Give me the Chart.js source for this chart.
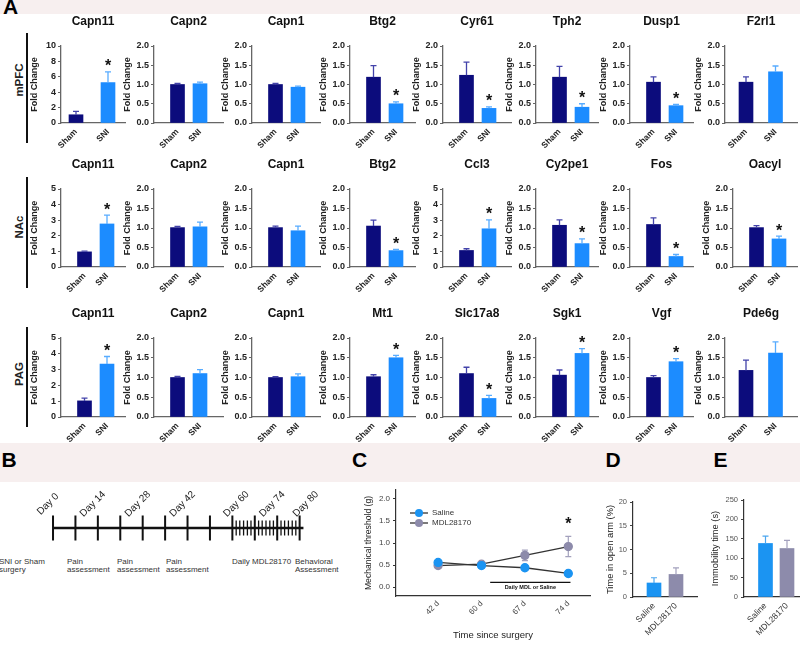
<!DOCTYPE html>
<html>
<head>
<meta charset="utf-8">
<title>Calpain expression and behaviour</title>
<script src="https://cdn.jsdelivr.net/npm/chart.js@4.4.1/dist/chart.umd.min.js"></script>
<style>
  body { margin: 0; background: #fff; }
  #fig { position: relative; width: 800px; height: 645px; overflow: hidden; font-family: Arial, "Liberation Sans", sans-serif; color: #222; }
  .band { position: absolute; left: 0; width: 800px; background: #f7efef; }
  .letter { position: absolute; font-size: 21px; line-height: 1; font-weight: bold; color: #000; }
  .region { position: absolute; font-size: 11.5px; font-weight: bold; white-space: nowrap; transform: translate(-50%, -50%) rotate(-90deg); }
  .rule { position: absolute; left: 26px; width: 2px; background: #111; }
  .note { position: absolute; font-size: 8px; line-height: 8.5px; color: #333; white-space: nowrap; }
  canvas { position: absolute; }
</style>
</head>
<body>
<div id="fig">
  <div class="band" style="top:0;height:14px"></div>
  <div class="band" style="top:443px;height:39px"></div>
  <div class="letter" style="left:3px;top:-4.5px">A</div>
  <div class="letter" style="left:1.5px;top:449px">B</div>
  <div class="letter" style="left:352px;top:449px">C</div>
  <div class="letter" style="left:605.5px;top:449px">D</div>
  <div class="letter" style="left:713.5px;top:449px">E</div>

  <div class="region" style="left:19px;top:80px">mPFC</div>
  <div class="region" style="left:19px;top:227px">NAc</div>
  <div class="region" style="left:19px;top:374px">PAG</div>
  <div class="rule" style="top:33px;height:110px"></div>
  <div class="rule" style="top:177px;height:111px"></div>
  <div class="rule" style="top:327px;height:100px"></div>

  <div class="note" style="left:-1px;top:557.5px">SNI or Sham<br>surgery</div>
  <div class="note" style="left:67px;top:557.5px">Pain<br>assessment</div>
  <div class="note" style="left:117px;top:557.5px">Pain<br>assessment</div>
  <div class="note" style="left:166px;top:557.5px">Pain<br>assessment</div>
  <div class="note" style="left:232px;top:557.5px">Daily MDL28170</div>
  <div class="note" style="left:295px;top:557.5px">Behavioral<br>Assessment</div>
</div>

<script>
const FONT = 'Arial, "Liberation Sans", sans-serif';

// ---- panel A: fold change, Sham vs SNI ----
const groups = ['Sham', 'SNI'];

const mpfcGenes = ['Capn11', 'Capn2', 'Capn1', 'Btg2', 'Cyr61', 'Tph2', 'Dusp1', 'F2rl1'];
const mpfcSham = [1.07, 1.0, 1.0, 1.19, 1.24, 1.19, 1.06, 1.06];
const mpfcShamErr = [0.43, 0.03, 0.03, 0.3, 0.34, 0.28, 0.14, 0.14];
const mpfcSni = [5.25, 1.02, 0.93, 0.5, 0.38, 0.41, 0.45, 1.33];
const mpfcSniErr = [1.4, 0.04, 0.03, 0.05, 0.04, 0.09, 0.03, 0.15];
const mpfcSig = [true, false, false, true, true, true, true, false];
const mpfcMax = [10, 2, 2, 2, 2, 2, 2, 2];

const nacGenes = ['Capn11', 'Capn2', 'Capn1', 'Btg2', 'Ccl3', 'Cy2pe1', 'Fos', 'Oacyl'];
const nacSham = [0.97, 1.01, 1.01, 1.05, 1.06, 1.07, 1.09, 1.01];
const nacShamErr = [0.05, 0.03, 0.04, 0.15, 0.11, 0.14, 0.17, 0.05];
const nacSni = [2.76, 1.03, 0.93, 0.42, 2.45, 0.6, 0.27, 0.72];
const nacSniErr = [0.57, 0.12, 0.12, 0.03, 0.57, 0.12, 0.05, 0.07];
const nacSig = [true, false, false, true, true, true, true, true];
const nacMax = [5, 2, 2, 2, 5, 2, 2, 2];

const pagGenes = ['Capn11', 'Capn2', 'Capn1', 'Mt1', 'Slc17a8', 'Sgk1', 'Vgf', 'Pde6g'];
const pagSham = [1.02, 1.0, 1.0, 1.02, 1.1, 1.06, 1.0, 1.18];
const pagShamErr = [0.18, 0.03, 0.02, 0.05, 0.16, 0.13, 0.05, 0.26];
const pagSni = [3.35, 1.1, 1.02, 1.5, 0.47, 1.61, 1.4, 1.62];
const pagSniErr = [0.48, 0.1, 0.07, 0.06, 0.08, 0.12, 0.08, 0.28];
const pagSig = [true, false, false, true, true, true, true, false];
const pagMax = [5, 2, 2, 2, 2, 2, 2, 2];

// ---- panel B: timeline ----
const timelineMajor = [0, 1, 2, 3, 4, 5, 6, 7, 8, 9, 10, 11];
const timelineMinor = [8.17, 8.33, 8.5, 8.67, 8.83, 9.17, 9.33, 9.5, 9.67, 9.83, 10.17, 10.33, 10.5, 10.67, 10.83];
const timelineEnd = 11.17;
const timelineDays = ['Day 0', 'Day 14', 'Day 28', 'Day 42', 'Day 60', 'Day 74', 'Day 80'];
const timelineDayAt = [0, 2, 4, 6, 8.4, 10, 11.5];

// ---- panel C: mechanical threshold ----
const surgeryDays = ['42 d', '60 d', '67 d', '74 d'];
const salineThreshold = [0.56, 0.49, 0.44, 0.31];
const salineThresholdErr = [0.03, 0.03, 0.03, 0.03];
const mdlThreshold = [0.49, 0.52, 0.72, 0.92];
const mdlThresholdErr = [0.04, 0.04, 0.12, 0.23];
const mdlThresholdSig = [false, false, false, true];
const thresholdTicks = [0, 0.5, 1, 1.5, 2];

// ---- panels D and E ----
const treatments = ['Saline', 'MDL28170'];
const openArm = [2.95, 4.75];
const openArmErr = [1.1, 1.4];
const openArmTicks = [0, 5, 10, 15, 20];
const immobility = [138, 125];
const immobilityErr = [19, 21];
const immobilityTicks = [0, 50, 100, 150, 200, 250];

const SHAM = '#0c0c7c', SNI = '#1c8cff';
const SHAM_ERR = '#4343aa', SNI_ERR = '#58acff';
const SALINE = '#1b94f2', MDL = '#8d8bab';
const SALINE_ERR = '#4ba6ef', MDL_ERR = '#a3a1bd';

Chart.defaults.font.family = FONT;
Chart.defaults.color = '#222';
Chart.defaults.animation = false;
Chart.defaults.responsive = false;
Chart.defaults.events = [];
Chart.defaults.plugins.legend.display = false;
Chart.defaults.plugins.tooltip.enabled = false;

const fig = document.getElementById('fig');

function addCanvas(left, top, width, height) {
    const c = document.createElement('canvas');
    c.width = width;
    c.height = height;
    c.style.left = left + 'px';
    c.style.top = top + 'px';
    c.style.width = width + 'px';
    c.style.height = height + 'px';
    fig.appendChild(c);
    return c;
}

function drawErrors(chart, opts) {
    const ctx = chart.ctx;
    const ys = chart.scales.y;
    chart.data.datasets.forEach((ds, di) => {
        if (!ds.errors) return;
        chart.getDatasetMeta(di).data.forEach((el, i) => {
            const v = ds.data[i].y;
            const e = ds.errors[i];
            const top = ys.getPixelForValue(v + e);
            const bottom = ys.getPixelForValue(opts.both ? v - e : v);
            ctx.save();
            ctx.strokeStyle = Array.isArray(ds.errorColor) ? ds.errorColor[i] : ds.errorColor;
            ctx.lineWidth = opts.width;
            ctx.beginPath();
            ctx.moveTo(el.x, bottom);
            ctx.lineTo(el.x, top);
            ctx.moveTo(el.x - opts.cap, top);
            ctx.lineTo(el.x + opts.cap, top);
            if (opts.both) {
                ctx.moveTo(el.x - opts.cap, bottom);
                ctx.lineTo(el.x + opts.cap, bottom);
            }
            ctx.stroke();
            if (ds.stars && ds.stars[i]) {
                ctx.fillStyle = '#111';
                ctx.font = 'bold 16px ' + FONT;
                ctx.textAlign = 'center';
                ctx.textBaseline = 'alphabetic';
                ctx.fillText('*', el.x, top - opts.starGap);
            }
            ctx.restore();
        });
    });
}

const errorBars = {
    id: 'errorBars',
    beforeDatasetsDraw(chart, args, opts) { if (opts.under) drawErrors(chart, opts); },
    afterDatasetsDraw(chart, args, opts) { if (!opts.under) drawErrors(chart, opts); }
};

const panelTitle = {
    id: 'panelTitle',
    afterDraw(chart, args, opts) {
        const { ctx, chartArea } = chart;
        ctx.save();
        ctx.font = 'bold 12px ' + FONT;
        ctx.fillStyle = '#111';
        ctx.textAlign = 'center';
        ctx.textBaseline = 'middle';
        ctx.fillText(opts.text, (chartArea.left + chartArea.right) / 2, chartArea.top - opts.gap);
        ctx.restore();
    }
};

// ---- panel A ----
const regions = [
    { genes: mpfcGenes, sham: mpfcSham, shamErr: mpfcShamErr, sni: mpfcSni, sniErr: mpfcSniErr, sig: mpfcSig, yMax: mpfcMax },
    { genes: nacGenes, sham: nacSham, shamErr: nacShamErr, sni: nacSni, sniErr: nacSniErr, sig: nacSig, yMax: nacMax },
    { genes: pagGenes, sham: pagSham, shamErr: pagShamErr, sni: pagSni, sniErr: pagSniErr, sig: pagSig, yMax: pagMax }
];

const colX = [61, 154, 252, 350, 443, 536, 630, 725];
const colW = [64, 69, 68, 65, 68, 62, 63, 72];
const rowTop = [46, 189, 338];
const rowH = [77, 78, 79];

function barPlace(r, c) {
    if (r === 0 && c === 0) return [15, 32];
    if (c === 7 && r !== 1) return [21, 29.5];
    return [23.5, 22.5];
}

function createGeneChart(r, c) {
    const reg = regions[r];
    const axisX = (r === 1 && c === 7) ? 733 : colX[c];
    const plotW = (r === 1 && c === 7) ? 64 : colW[c];
    const [first, step] = barPlace(r, c);
    const yMax = reg.yMax[c];
    const yStep = yMax === 10 ? 2 : (yMax === 5 ? 1 : 0.5);
    const canvas = addCanvas(axisX - 32, rowTop[r] - 34, 32 + plotW + 4, 34 + rowH[r] + 36);

    return new Chart(canvas, {
        type: 'bar',
        data: {
            datasets: [{
                data: [{ x: 0, y: reg.sham[c] }, { x: 1, y: reg.sni[c] }],
                errors: [reg.shamErr[c], reg.sniErr[c]],
                errorColor: [SHAM_ERR, SNI_ERR],
                stars: [false, reg.sig[c]],
                backgroundColor: [SHAM, SNI],
                barThickness: 14
            }]
        },
        options: {
            layout: { padding: { top: 34, left: 0, right: 4, bottom: 0 } },
            plugins: {
                panelTitle: { text: reg.genes[c], gap: 24 },
                errorBars: { cap: 3, starGap: 0.5, width: 1.3 }
            },
            scales: {
                x: {
                    type: 'linear',
                    offset: false,
                    min: -first / step,
                    max: (plotW - first) / step,
                    afterBuildTicks: s => { s.ticks = groups.map((g, i) => ({ value: i })); },
                    afterFit: s => { s.height = 36; },
                    ticks: {
                        callback: v => groups[v],
                        minRotation: 45, maxRotation: 45, padding: 4,
                        font: { size: 8.5, weight: 'bold' }, color: '#222'
                    },
                    grid: { display: false, drawTicks: false },
                    border: { color: '#666', width: 1.3 }
                },
                y: {
                    min: 0,
                    max: yMax,
                    afterFit: s => { s.width = 32; },
                    ticks: {
                        stepSize: yStep, padding: 2,
                        callback: v => yMax > 2 ? String(v) : v.toFixed(1),
                        font: { size: 9, weight: 'bold' }, color: '#222'
                    },
                    grid: { drawOnChartArea: false, tickLength: 3, color: '#666' },
                    border: { color: '#666', width: 1.3 },
                    title: { display: true, text: 'Fold Change', padding: 0, font: { size: 9, weight: 'bold' }, color: '#222' }
                }
            }
        },
        plugins: [panelTitle, errorBars]
    });
}

for (let r = 0; r < 3; r++) {
    for (let c = 0; c < 8; c++) {
        createGeneChart(r, c);
    }
}

// ---- panel B ----
const dayLabels = {
    id: 'dayLabels',
    afterDraw(chart, args, opts) {
        const { ctx, scales: { x, y } } = chart;
        ctx.save();
        ctx.font = '10px ' + FONT;
        ctx.fillStyle = '#222';
        ctx.textAlign = 'center';
        ctx.textBaseline = 'middle';
        opts.labels.forEach((t, i) => {
            ctx.save();
            ctx.translate(x.getPixelForValue(opts.at[i]) - 5, y.getPixelForValue(0) - 24);
            ctx.rotate(-Math.PI / 4);
            ctx.fillText(t, 0, 0);
            ctx.restore();
        });
        ctx.restore();
    }
};

new Chart(addCanvas(0, 482, 350, 92), {
    type: 'scatter',
    data: {
        datasets: [
            {
                type: 'line',
                data: [{ x: timelineMajor[0], y: 0 }, { x: timelineEnd, y: 0 }],
                borderColor: '#111', borderWidth: 2.5, pointRadius: 0
            },
            {
                data: timelineMajor.map(v => ({ x: v, y: 0 })),
                pointStyle: 'line', pointRotation: 90, pointRadius: 12.5,
                pointBorderWidth: 2, pointBorderColor: '#111'
            },
            {
                data: timelineMinor.map(v => ({ x: v, y: 0 })),
                pointStyle: 'line', pointRotation: 90, pointRadius: 7.5,
                pointBorderWidth: 1.3, pointBorderColor: '#111'
            }
        ]
    },
    options: {
        layout: { padding: 0 },
        plugins: { dayLabels: { labels: timelineDays, at: timelineDayAt } },
        scales: {
            x: { type: 'linear', display: false, min: -1.718, max: 12.6 },
            y: { display: false, min: -1, max: 1 }
        }
    },
    plugins: [dayLabels]
});

// ---- panel C ----
const cExtras = {
    id: 'cExtras',
    afterDraw(chart, args, opts) {
        const { ctx, chartArea: a, scales: { x, y } } = chart;
        ctx.save();
        chart.data.datasets.forEach((ds, i) => {
            const ly = a.top + 23 + i * 10;
            ctx.strokeStyle = ds.borderColor;
            ctx.lineWidth = 1.3;
            ctx.beginPath();
            ctx.moveTo(a.left + 14, ly);
            ctx.lineTo(a.left + 32, ly);
            ctx.stroke();
            ctx.fillStyle = ds.pointBackgroundColor;
            ctx.beginPath();
            ctx.arc(a.left + 23, ly, 4, 0, Math.PI * 2);
            ctx.fill();
            ctx.fillStyle = '#333';
            ctx.font = '8px ' + FONT;
            ctx.textAlign = 'left';
            ctx.textBaseline = 'middle';
            ctx.fillText(ds.label, a.left + 36, ly);
        });
        const x0 = x.getPixelForValue(opts.span[0]);
        const x1 = x.getPixelForValue(opts.span[1]);
        const yl = y.getPixelForValue(opts.level);
        ctx.strokeStyle = '#111';
        ctx.lineWidth = 1.3;
        ctx.beginPath();
        ctx.moveTo(x0, yl);
        ctx.lineTo(x1, yl);
        ctx.stroke();
        ctx.fillStyle = '#111';
        ctx.font = 'bold 5.5px ' + FONT;
        ctx.textAlign = 'center';
        ctx.textBaseline = 'top';
        ctx.fillText(opts.text, (x0 + x1) / 2, yl + 2);
        ctx.restore();
    }
};

new Chart(addCanvas(340, 482, 260, 163), {
    type: 'line',
    data: {
        datasets: [
            {
                label: 'Saline',
                data: salineThreshold.map((v, i) => ({ x: i, y: v })),
                errors: salineThresholdErr, errorColor: SALINE_ERR,
                borderColor: '#333', borderWidth: 1.3,
                pointRadius: 4, pointBackgroundColor: SALINE, pointBorderColor: SALINE
            },
            {
                label: 'MDL28170',
                data: mdlThreshold.map((v, i) => ({ x: i, y: v })),
                errors: mdlThresholdErr, errorColor: MDL_ERR, stars: mdlThresholdSig,
                borderColor: '#333', borderWidth: 1.3,
                pointRadius: 4, pointBackgroundColor: MDL, pointBorderColor: MDL
            }
        ]
    },
    options: {
        layout: { padding: { left: 23, top: 8, right: 10, bottom: 0 } },
        plugins: {
            errorBars: { under: true, both: true, cap: 3, starGap: 7, width: 1.2 },
            cExtras: { span: [1.2, 3.05], level: 0.11, text: 'Daily MDL or Saline' }
        },
        scales: {
            x: {
                type: 'linear', offset: false, min: -0.97, max: 3.5,
                afterBuildTicks: s => { s.ticks = surgeryDays.map((d, i) => ({ value: i })); },
                afterFit: s => { s.height = 49; },
                ticks: { callback: v => surgeryDays[v], minRotation: 45, maxRotation: 45, padding: 3, font: { size: 8 }, color: '#444' },
                grid: { display: false, drawTicks: false },
                border: { color: '#333', width: 1.2 },
                title: { display: true, text: 'Time since surgery', font: { size: 9.5 }, color: '#222', padding: { top: 0, bottom: 4 } }
            },
            y: {
                min: -0.2, max: 2.2,
                afterBuildTicks: s => { s.ticks = thresholdTicks.map(v => ({ value: v })); },
                afterFit: s => { s.width = 33; },
                ticks: { callback: v => v.toFixed(1), padding: 3, font: { size: 8 }, color: '#444' },
                grid: { drawOnChartArea: false, tickLength: 3, color: '#333' },
                border: { color: '#333', width: 1.2 },
                title: { display: true, text: 'Mechanical threshold (g)', font: { size: 8.6 }, color: '#222', padding: 0 }
            }
        }
    },
    plugins: [errorBars, cExtras]
});

// ---- panels D and E ----
function createTreatmentChart(box, values, errs, ticks, yTitle) {
    const plotW = box.width - box.padLeft - box.yWidth - box.padRight;
    return new Chart(addCanvas(box.left, 482, box.width, 163), {
        type: 'bar',
        data: {
            datasets: [{
                data: values.map((v, i) => ({ x: i, y: v })),
                errors: errs,
                errorColor: [SALINE_ERR, MDL_ERR],
                backgroundColor: [SALINE, MDL],
                barThickness: 14
            }]
        },
        options: {
            layout: { padding: { left: box.padLeft, top: box.padTop, right: box.padRight, bottom: 0 } },
            plugins: { errorBars: { cap: 3, starGap: 0, width: 1.2 } },
            scales: {
                x: {
                    type: 'linear',
                    offset: false,
                    min: -box.first / box.step,
                    max: (plotW - box.first) / box.step,
                    afterBuildTicks: s => { s.ticks = treatments.map((t, i) => ({ value: i })); },
                    afterFit: s => { s.height = 48; },
                    ticks: { callback: v => treatments[v], minRotation: 45, maxRotation: 45, padding: 4, font: { size: 8.5 }, color: '#333' },
                    grid: { display: false, drawTicks: false },
                    border: { color: '#333', width: 1.2 }
                },
                y: {
                    min: 0, max: ticks[ticks.length - 1],
                    afterBuildTicks: s => { s.ticks = ticks.map(v => ({ value: v })); },
                    afterFit: s => { s.width = box.yWidth; },
                    ticks: { padding: 3, font: { size: 7.5 }, color: '#555' },
                    grid: { drawOnChartArea: false, tickLength: 3, color: '#444' },
                    border: { color: '#333', width: 1.2 },
                    title: { display: true, text: yTitle, font: { size: 9.3 }, color: '#222', padding: 0 }
                }
            }
        },
        plugins: [errorBars]
    });
}

createTreatmentChart(
    { left: 600, width: 102, padLeft: 5, yWidth: 28, padRight: 5, padTop: 20, first: 21, step: 22 },
    openArm, openArmErr, openArmTicks, 'Time in open arm (%)'
);
createTreatmentChart(
    { left: 700, width: 100, padLeft: 10, yWidth: 34, padRight: 0, padTop: 18, first: 21.5, step: 21.5 },
    immobility, immobilityErr, immobilityTicks, 'Immobility time (s)'
);
</script>
</body>
</html>
